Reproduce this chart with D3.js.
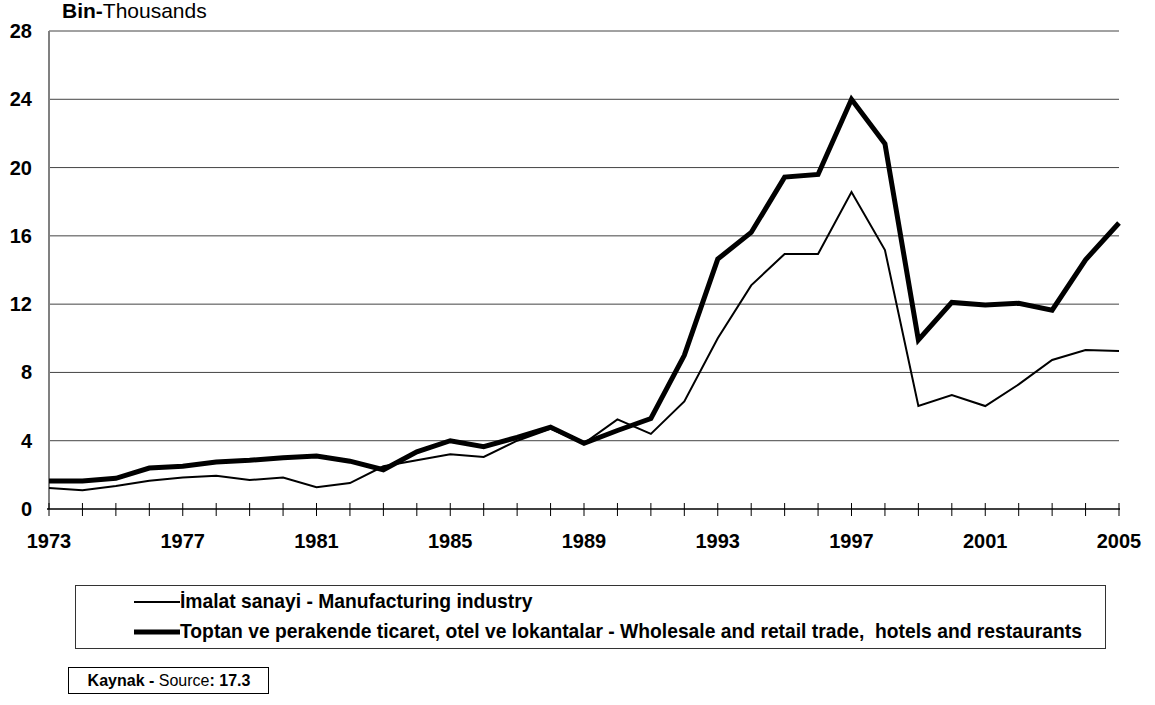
<!DOCTYPE html>
<html><head><meta charset="utf-8">
<script src="https://cdn.jsdelivr.net/npm/d3@7"></script>
<style>body{margin:0;background:#fff}svg{display:block;font-family:"Liberation Sans",Arial,sans-serif}text{white-space:pre}</style>
</head><body>
<svg id="c" width="1155" height="705"></svg>
<script>
const years = d3.range(1973, 2006);
const manufacturing = [1.23,1.1,1.35,1.65,1.85,1.95,1.7,1.85,1.28,1.52,2.5,2.85,3.2,3.05,4.0,4.7,3.85,5.25,4.4,6.3,10.0,13.1,14.94,14.94,18.57,15.17,6.03,6.68,6.03,7.3,8.73,9.31,9.25];
const wholesale = [1.64,1.64,1.8,2.4,2.5,2.75,2.85,3.0,3.1,2.8,2.3,3.35,4.0,3.65,4.2,4.8,3.85,4.6,5.3,9.0,14.64,16.2,19.44,19.6,24.0,21.4,9.9,12.1,11.95,12.05,11.65,14.6,16.75];
const yTicks = [0,4,8,12,16,20,24,28];
const xLabelYears = [1973,1977,1981,1985,1989,1993,1997,2001,2005];
const seriesNames = ["İmalat sanayi - Manufacturing industry","Toptan ve perakende ticaret, otel ve lokantalar - Wholesale and retail trade,  hotels and restaurants"];

const svg = d3.select("#c");
const x = d3.scaleLinear().domain([1973,2005]).range([49,1119]);
const y = d3.scaleLinear().domain([0,28]).range([509,31]);

// gridlines
svg.append("g").selectAll("line").data(yTicks.filter(d=>d>0)).join("line")
  .attr("x1",49).attr("x2",1119).attr("y1",d=>y(d)).attr("y2",d=>y(d))
  .attr("stroke","#444").attr("stroke-width",1);
// y axis line
svg.append("line").attr("x1",49).attr("x2",49).attr("y1",y(28)).attr("y2",y(0))
  .attr("stroke","#808080").attr("stroke-width",2);
// y labels
svg.append("g").selectAll("text").data(yTicks).join("text")
  .attr("x",32).attr("y",d=>y(d)+7).attr("text-anchor","end")
  .attr("font-size",20).attr("font-weight","bold").text(d=>d);
// x axis
svg.append("line").attr("x1",47).attr("x2",1120).attr("y1",y(0)).attr("y2",y(0))
  .attr("stroke","#000").attr("stroke-width",1.5);
svg.append("g").selectAll("line").data(years).join("line")
  .attr("x1",d=>x(d)).attr("x2",d=>x(d)).attr("y1",y(0)-6).attr("y2",y(0)+7)
  .attr("stroke","#000").attr("stroke-width",1);
svg.append("g").selectAll("text").data(xLabelYears).join("text")
  .attr("x",d=>x(d)).attr("y",548).attr("text-anchor","middle")
  .attr("font-size",20).attr("font-weight","bold").text(d=>d);

// title
const t = svg.append("text").attr("x",62).attr("y",18).attr("font-size",21);
t.append("tspan").attr("font-weight","bold").text("Bin-");
t.append("tspan").text("Thousands");

// lines
const line = d3.line().x((d,i)=>x(years[i])).y(d=>y(d)).curve(d3.curveLinear);
svg.append("path").datum(manufacturing).attr("d",line).attr("fill","none")
  .attr("stroke","#000").attr("stroke-width",2).attr("stroke-linejoin","miter");
svg.append("path").datum(wholesale).attr("d",line).attr("fill","none")
  .attr("stroke","#000").attr("stroke-width",5).attr("stroke-linejoin","miter");

// legend
svg.append("rect").attr("x",75.5).attr("y",585.5).attr("width",1030).attr("height",63)
  .attr("fill","none").attr("stroke","#333").attr("stroke-width",1);
const lg = [{w:2,yy:602},{w:5,yy:632}];
lg.forEach((l,i)=>{
  svg.append("line").attr("x1",134).attr("x2",180).attr("y1",l.yy).attr("y2",l.yy)
    .attr("stroke","#000").attr("stroke-width",l.w);
  svg.append("text").attr("x",180).attr("y",l.yy+6).attr("font-size",19.3).attr("font-weight","bold")
    .text(seriesNames[i]);
});

// source box
svg.append("rect").attr("x",68.5).attr("y",667.5).attr("width",200).attr("height",26)
  .attr("fill","none").attr("stroke","#000").attr("stroke-width",1);
const s = svg.append("text").attr("x",169).attr("y",686).attr("text-anchor","middle").attr("font-size",16);
s.append("tspan").attr("font-weight","bold").text("Kaynak - ");
s.append("tspan").text("Source");
s.append("tspan").attr("font-weight","bold").text(": 17.3");
</script>
</body></html>
